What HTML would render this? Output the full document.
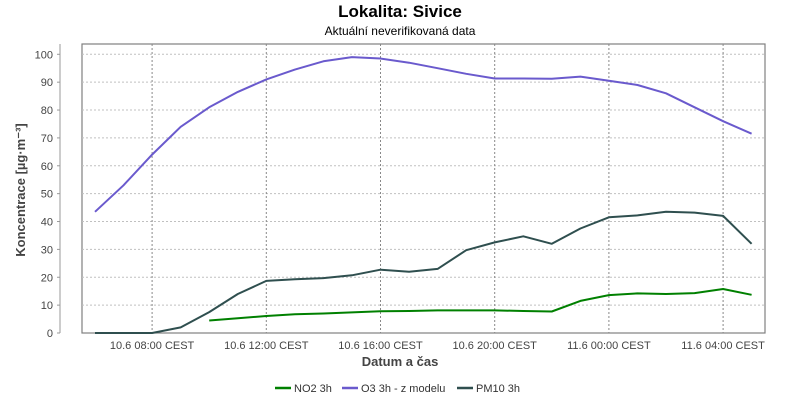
<!DOCTYPE html>
<html><head><meta charset="utf-8"><style>
body{margin:0;background:#fff;font-family:"Liberation Sans",sans-serif}
svg text{font-family:"Liberation Sans",sans-serif}
</style></head><body>
<svg id="c" width="800" height="400" xmlns="http://www.w3.org/2000/svg">
<text x="400" y="17" text-anchor="middle" font-size="17" font-weight="bold" fill="#000">Lokalita: Sivice</text>
<text x="400" y="35" text-anchor="middle" font-size="12" fill="#000">Aktuální neverifikovaná data</text>
<g id="grid"></g><g id="series"></g><g id="axes"></g>
<text transform="translate(25,190) rotate(-90)" text-anchor="middle" font-size="13" font-weight="bold" fill="#444">Koncentrace [µg·m⁻³]</text>
<text x="400" y="366" text-anchor="middle" font-size="13" font-weight="bold" fill="#444">Datum a čas</text>
<g id="legend"></g>
</svg>
<script>
const hours=[6,7,8,9,10,11,12,13,14,15,16,17,18,19,20,21,22,23,24,25,26,27,28,29];
const o3=[43.5,53,64,74,81,86.5,91,94.5,97.5,99,98.5,97,95,93,91.3,91.3,91.2,92,90.5,89,86,81,76,71.5];
const pm10=[0,0,0,2,7.5,14,18.7,19.3,19.7,20.7,22.7,22,23,29.7,32.5,34.7,32,37.5,41.5,42.2,43.5,43.2,42,32];
const no2=[null,null,null,null,4.5,5.3,6.1,6.7,7,7.4,7.8,7.9,8.1,8.1,8.1,7.9,7.7,11.5,13.6,14.2,14,14.3,15.8,13.7];
const yTicks=[0,10,20,30,40,50,60,70,80,90,100];
const xTickHours=[8,12,16,20,24,28];
const xTickLabels=["10.6 08:00 CEST","10.6 12:00 CEST","10.6 16:00 CEST","10.6 20:00 CEST","11.6 00:00 CEST","11.6 04:00 CEST"];
const L=82,R=765,T=44,B=333;
const x=h=>95+(h-6)*28.55;
const y=v=>B-v*2.787;
const NS="http://www.w3.org/2000/svg";
function mk(p,t,a){const e=document.createElementNS(NS,t);for(const k in a)e.setAttribute(k,a[k]);p.appendChild(e);return e;}
const g=document.getElementById('grid'),ax=document.getElementById('axes'),s=document.getElementById('series'),lg=document.getElementById('legend');
mk(g,'rect',{x:L,y:T,width:R-L,height:B-T,fill:'#fff',stroke:'#808080','stroke-width':1.2});
yTicks.forEach(v=>{
 if(v>0){const l=mk(g,'line',{x1:L,x2:R,y1:y(v),y2:y(v),stroke:'#c0c0c0','stroke-dasharray':'2,2'});
 
 }
 const t=mk(ax,'text',{x:53,y:y(v)+4,'text-anchor':'end','font-size':11,fill:'#444'});t.textContent=v;
 
 
 mk(ax,'line',{x1:57,x2:60,y1:y(v),y2:y(v),stroke:'#999'});
});
mk(ax,'line',{x1:60,x2:60,y1:T,y2:B,stroke:'#999'});
xTickHours.forEach((h,i)=>{
 const l=mk(g,'line',{x1:x(h),x2:x(h),y1:T,y2:B,stroke:'#888','stroke-dasharray':'2,2'});
 
 
 const t=mk(ax,'text',{x:x(h),y:349,'text-anchor':'middle','font-size':11,fill:'#444'});t.textContent=xTickLabels[i];
 
 
});
function line(vals,col,name){
 let d='',pen=false;
 vals.forEach((v,i)=>{if(v==null){pen=false;return;}d+=(pen?'L':'M')+x(hours[i]).toFixed(1)+','+y(v).toFixed(1);pen=true;});
 const p=mk(s,'path',{d:d,fill:'none',stroke:col,'stroke-width':2,'stroke-linejoin':'round'});
 
 
}
line(no2,'#008000','no2-line');
line(o3,'#6a5acd','o3-line');
line(pm10,'#2f4f4f','pm10-line');
const items=[["NO2 3h","#008000",275],["O3 3h - z modelu","#6a5acd",342],["PM10 3h","#2f4f4f",457]];
items.forEach(it=>{
 const e=mk(lg,'g',{});
 
 
 mk(e,'line',{x1:it[2],x2:it[2]+16,y1:388,y2:388,stroke:it[1],'stroke-width':2.5});
 const t=mk(e,'text',{x:it[2]+19,y:392,'font-size':11,fill:'#333'});t.textContent=it[0];
});
</script>
</body></html>
